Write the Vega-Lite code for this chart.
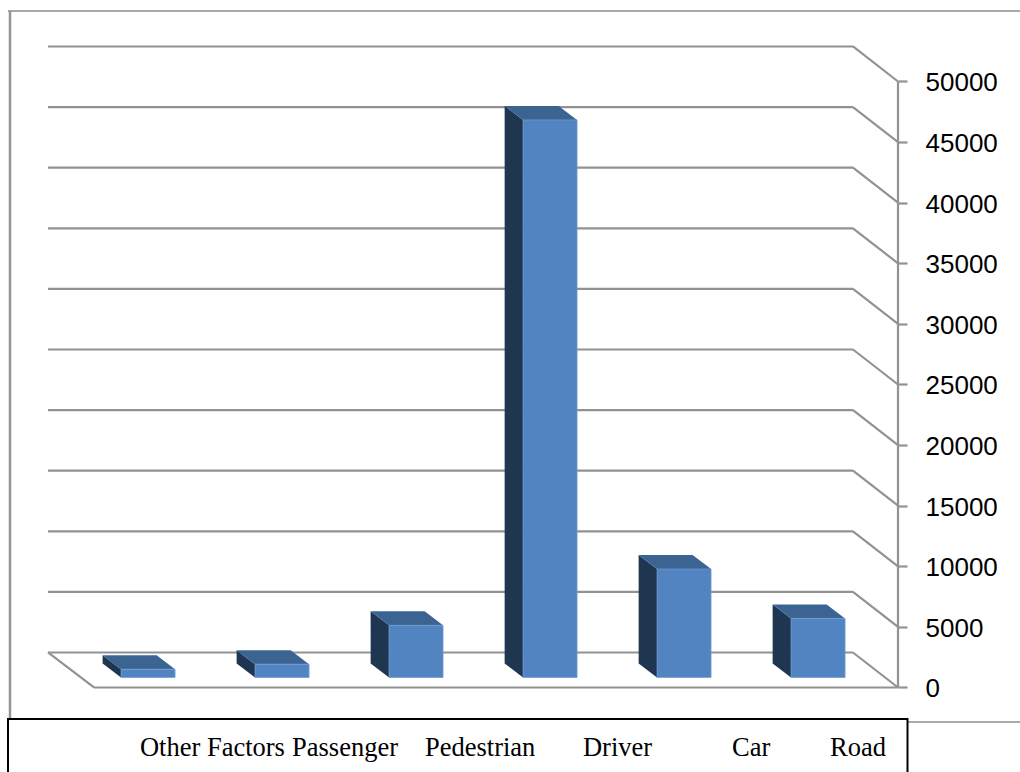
{
  "$schema": "https://vega.github.io/schema/vega-lite/v6.json",
  "width": 1020,
  "height": 772,
  "padding": 0,
  "autosize": {"type": "none"},
  "background": "white",
  "view": {"stroke": null},
  "datasets": {
    "causes": [
      {"category": "Other Factors", "value": 680},
      {"category": "Passenger", "value": 1100},
      {"category": "Pedestrian", "value": 4300},
      {"category": "Driver", "value": 46000},
      {"category": "Car", "value": 8950},
      {"category": "Road", "value": 4870}
    ],
    "levels": [
      {"level": 0}, {"level": 5000}, {"level": 10000}, {"level": 15000},
      {"level": 20000}, {"level": 25000}, {"level": 30000}, {"level": 35000},
      {"level": 40000}, {"level": 45000}, {"level": 50000}
    ]
  },
  "encoding": {
    "x": {"type": "quantitative", "scale": {"domain": [-0.7015, 6.9104], "nice": false, "zero": false}, "axis": null},
    "y": {
      "type": "quantitative",
      "scale": {"domain": [-6972, 56724], "nice": false, "zero": false},
      "axis": {
        "orient": "right",
        "offset": -122,
        "values": [0, 5000, 10000, 15000, 20000, 25000, 30000, 35000, 40000, 45000, 50000],
        "title": null,
        "grid": false,
        "domain": false,
        "format": "d",
        "tickColor": "#929292",
        "tickWidth": 2.2,
        "tickSize": 9,
        "labelPadding": 18,
        "labelOffset": 1.5,
        "labelFont": "Liberation Sans",
        "labelFontSize": 26,
        "labelColor": "#000000",
        "labelAlign": "left",
        "labelBaseline": "middle",
        "labelOverlap": false,
        "labelFlush": false
      }
    }
  },
  "layer": [
    {
      "description": "Outer chart frame",
      "data": {"values": [{"b": -0.6418, "c": 6.9104, "top": 55817}]},
      "mark": {"type": "rule", "color": "#8c8c8c", "strokeWidth": 1.5},
      "encoding": {
        "x": {"field": "b", "type": "quantitative"},
        "x2": {"field": "c"},
        "y": {"field": "top", "type": "quantitative"}
      }
    },
    {
      "data": {"values": [{"a": -0.6269, "top": 55817, "bottom": -2599}]},
      "mark": {"type": "rule", "color": "#949494", "strokeWidth": 2.5},
      "encoding": {
        "x": {"field": "a", "type": "quantitative"},
        "y": {"field": "top", "type": "quantitative"},
        "y2": {"field": "bottom"}
      }
    },
    {
      "data": {"values": [{"from": 6.0709, "to": 6.9104, "y": -2847}]},
      "mark": {"type": "rule", "color": "#8c8c8c", "strokeWidth": 1.5},
      "encoding": {
        "x": {"field": "from", "type": "quantitative"},
        "x2": {"field": "to"},
        "y": {"field": "y", "type": "quantitative"}
      }
    },
    {
      "description": "Back wall lines at each level",
      "data": {"name": "levels"},
      "transform": [
        {"calculate": "-0.3433", "as": "x0"},
        {"calculate": "5.664", "as": "x1"},
        {"calculate": "datum.level + 2888", "as": "back"}
      ],
      "mark": {"type": "rule", "color": "#929292", "strokeWidth": 2.2},
      "encoding": {
        "x": {"field": "x0", "type": "quantitative"},
        "x2": {"field": "x1"},
        "y": {"field": "back", "type": "quantitative"}
      }
    },
    {
      "description": "Side wall lines running from the back wall to the value axis",
      "data": {"name": "levels"},
      "transform": [
        {"calculate": "5.664", "as": "x0"},
        {"calculate": "6", "as": "x1"},
        {"calculate": "datum.level + 2888", "as": "back"}
      ],
      "mark": {"type": "rule", "color": "#929292", "strokeWidth": 2.2},
      "encoding": {
        "x": {"field": "x0", "type": "quantitative"},
        "x2": {"field": "x1"},
        "y": {"field": "back", "type": "quantitative"},
        "y2": {"field": "level"}
      }
    },
    {
      "description": "Floor: left edge",
      "data": {"values": [{"x0": -0.3433, "x1": 0, "y0": 2888, "y1": 0}]},
      "mark": {"type": "rule", "color": "#929292", "strokeWidth": 2.2},
      "encoding": {
        "x": {"field": "x0", "type": "quantitative"},
        "x2": {"field": "x1"},
        "y": {"field": "y0", "type": "quantitative"},
        "y2": {"field": "y1"}
      }
    },
    {
      "description": "Floor: front edge",
      "data": {"values": [{"x0": 0, "x1": 6, "y0": 0}]},
      "mark": {"type": "rule", "color": "#929292", "strokeWidth": 2.2},
      "encoding": {
        "x": {"field": "x0", "type": "quantitative"},
        "x2": {"field": "x1"},
        "y": {"field": "y0", "type": "quantitative"}
      }
    },
    {
      "description": "Value axis line",
      "data": {"values": [{"x0": 6, "low": 0, "high": 50000}]},
      "mark": {"type": "rule", "color": "#929292", "strokeWidth": 2.2},
      "encoding": {
        "x": {"field": "x0", "type": "quantitative"},
        "y": {"field": "low", "type": "quantitative"},
        "y2": {"field": "high"}
      }
    },
    {
      "description": "Bar side faces",
      "data": {"name": "causes"},
      "transform": [
        {"calculate": "indexof(['Other Factors','Passenger','Pedestrian','Driver','Car','Road'], datum.category)", "as": "slot"},
        {"calculate": "[0.286, 0.686]", "as": "depth"},
        {"flatten": ["depth"]},
        {"calculate": "datum.slot + 0.30 - 0.3433 * datum.depth", "as": "px"},
        {"calculate": "datum.value + 2888 * datum.depth", "as": "upper"},
        {"calculate": "2888 * datum.depth", "as": "lower"}
      ],
      "mark": {"type": "area", "orient": "vertical", "color": "#1f3650", "interpolate": "linear"},
      "encoding": {
        "x": {"field": "px", "type": "quantitative"},
        "y": {"field": "upper", "type": "quantitative", "stack": null},
        "y2": {"field": "lower"},
        "detail": {"field": "category"}
      }
    },
    {
      "description": "Bar top faces",
      "data": {"name": "causes"},
      "transform": [
        {"calculate": "indexof(['Other Factors','Passenger','Pedestrian','Driver','Car','Road'], datum.category)", "as": "slot"},
        {"calculate": "[0.286, 0.686]", "as": "depth"},
        {"flatten": ["depth"]},
        {"calculate": "datum.slot + 0.30 - 0.3433 * datum.depth", "as": "left"},
        {"calculate": "datum.left + 0.403", "as": "right"},
        {"calculate": "datum.value + 2888 * datum.depth", "as": "upper"}
      ],
      "mark": {"type": "area", "orient": "horizontal", "color": "#3c6493", "interpolate": "linear"},
      "encoding": {
        "y": {"field": "upper", "type": "quantitative"},
        "x": {"field": "left", "type": "quantitative", "stack": null},
        "x2": {"field": "right"},
        "detail": {"field": "category"}
      }
    },
    {
      "description": "Bar front faces",
      "data": {"name": "causes"},
      "transform": [
        {"calculate": "indexof(['Other Factors','Passenger','Pedestrian','Driver','Car','Road'], datum.category)", "as": "slot"},
        {"calculate": "datum.slot + 0.30 - 0.3433 * 0.286", "as": "left"},
        {"calculate": "datum.left + 0.403", "as": "right"},
        {"calculate": "2888 * 0.286", "as": "base"},
        {"calculate": "datum.value + datum.base", "as": "upper"}
      ],
      "mark": {"type": "rect", "color": "#5384c2", "stroke": "#6f9bd3", "strokeWidth": 0.75},
      "encoding": {
        "x": {"field": "left", "type": "quantitative"},
        "x2": {"field": "right"},
        "y": {"field": "upper", "type": "quantitative"},
        "y2": {"field": "base"}
      }
    },
    {
      "description": "Category label box",
      "data": {"values": [{"x0": -0.6418, "x1": 6.0709, "y0": -2599, "y1": -7600}]},
      "mark": {"type": "rect", "fill": "white", "stroke": "#000000", "strokeWidth": 2},
      "encoding": {
        "x": {"field": "x0", "type": "quantitative"},
        "x2": {"field": "x1"},
        "y": {"field": "y0", "type": "quantitative"},
        "y2": {"field": "y1"}
      }
    },
    {
      "description": "Category labels",
      "data": {"name": "causes"},
      "transform": [
        {"calculate": "{'Other Factors': 0.343, 'Passenger': 1.478, 'Pedestrian': 2.47, 'Driver': 3.649, 'Car': 4.761, 'Road': 5.493}[datum.category]", "as": "labelAt"},
        {"calculate": "-4960", "as": "row"}
      ],
      "mark": {"type": "text", "align": "left", "baseline": "middle", "font": "Liberation Serif", "fontSize": 26.5, "color": "#000000"},
      "encoding": {
        "x": {"field": "labelAt", "type": "quantitative"},
        "y": {"field": "row", "type": "quantitative"},
        "text": {"field": "category", "type": "nominal"}
      }
    }
  ]
}
